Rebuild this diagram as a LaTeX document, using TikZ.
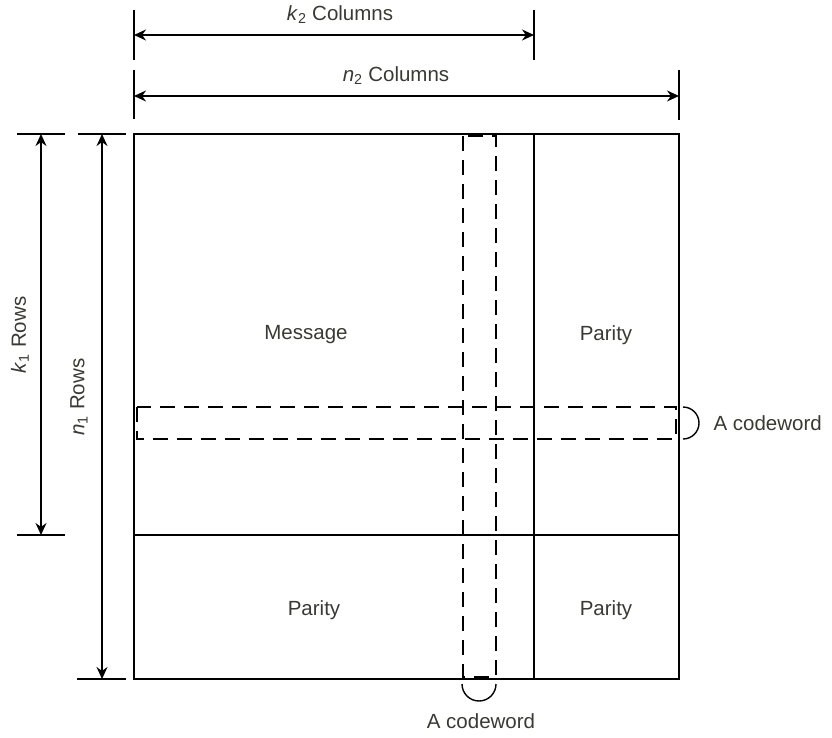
\documentclass[tikz,border=0pt]{standalone}
\usepackage{fontspec}
\setmainfont{Liberation Sans}
\usetikzlibrary{arrows.meta}
\definecolor{labelgray}{RGB}{58,58,50}

\begin{document}
\begin{tikzpicture}[x=1pt, y=-1pt,
  every node/.style={font=\fontsize{20.5}{24}\selectfont, text=labelgray},
  dimline/.style={{Stealth[length=12pt,width=11pt]}-{Stealth[length=12pt,width=11pt]}, line width=1.4pt},
  tickline/.style={line width=1.4pt},
  blockline/.style={line width=2pt},
  cwbox/.style={line width=1.8pt, dash pattern=on 15pt off 9pt},
  cwarc/.style={line width=1.4pt}]
  \useasboundingbox (0,0) rectangle (832,738);
  % corners of the code array
  \coordinate (tl) at (134,134);
  \coordinate (br) at (679,679);
  \coordinate (mt) at (534,134);
  \coordinate (mb) at (534,679);
  \coordinate (ml) at (134,535);
  \coordinate (mr) at (679,535);
  \draw [blockline] (tl) rectangle (br);
  \draw [blockline] (mt) -- (mb);
  \draw [blockline] (ml) -- (mr);
  % codewords
  \draw [cwbox] (463,136) rectangle (496,677);
  \draw [cwbox] (137,407) rectangle (676,439);
  \draw [cwarc] (683,407) arc[start angle=-90, end angle=90, radius=16];
  \draw [cwarc] (462,684) arc[start angle=180, end angle=0, radius=17];
  % block labels
  \node (msg) at (306,335) {Message};
  \node (par1) at (606,335) {Parity};
  \node (par2) at (314,610) {Parity};
  \node (par3) at (606,610) {Parity};
  \node [anchor=west] (cw1) at (710,423) {A codeword};
  \node (cw2) at (481,721) {A codeword};
  % column dimensions
  \draw [tickline] (134,10) -- (134,60);
  \draw [tickline] (534,10) -- (534,60);
  \draw [tickline] (134,70) -- (134,119);
  \draw [tickline] (679,70) -- (679,120);
  \coordinate (k2l) at (134,35);
  \coordinate (k2r) at (534,35);
  \coordinate (n2l) at (134,96);
  \coordinate (n2r) at (679,96);
  \draw [dimline] (k2l) -- (k2r);
  \draw [dimline] (n2l) -- (n2r);
  \node (k2) at (340,15) {\textit{k}\textsubscript{2} Columns};
  \node (n2) at (396,76) {\textit{n}\textsubscript{2} Columns};
  % row dimensions
  \draw [tickline] (17,134) -- (65,134);
  \draw [tickline] (17,535) -- (65,535);
  \draw [tickline] (78,134) -- (126,134);
  \draw [tickline] (77,679) -- (126,679);
  \coordinate (k1t) at (41,134);
  \coordinate (k1b) at (41,535);
  \coordinate (n1t) at (102,134);
  \coordinate (n1b) at (102,679);
  \draw [dimline] (k1t) -- (k1b);
  \draw [dimline] (n1t) -- (n1b);
  \node [rotate=90] (k1) at (20,335) {\textit{k}\textsubscript{1} Rows};
  \node [rotate=90] (n1) at (79,397) {\textit{n}\textsubscript{1} Rows};
\end{tikzpicture}
\end{document}
